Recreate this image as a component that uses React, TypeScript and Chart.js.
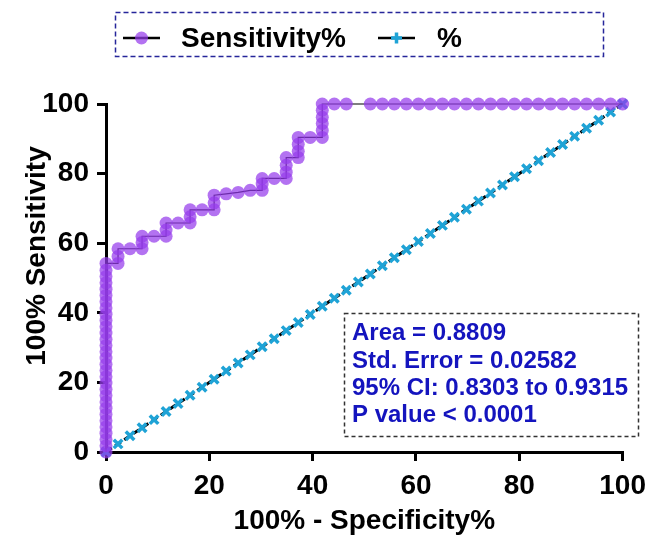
import React, { useEffect, useRef } from 'react';
import { Chart, registerables } from 'chart.js';
Chart.register(...registerables);

const FONT = '"Liberation Sans", Arial, Helvetica, sans-serif';

const seriesLabels = ['Sensitivity%', '%'];
const xTitle = '100% - Specificity%';
const yTitle = '100% Sensitivity';
const statsLines = ['Area = 0.8809', 'Std. Error = 0.02582', '95% CI: 0.8303 to 0.9315', 'P value < 0.0001'];

const rocX = [
  0, 0, 0, 0, 0, 0, 0, 0, 0, 0, 0, 0, 0, 0, 0, 0, 0, 0, 0, 0, 0, 0, 0, 0, 0, 0, 0, 0, 0, 0, 0,
  2.33, 2.33, 2.33,
  4.65,
  6.98, 6.98, 6.98,
  9.3,
  11.63, 11.63, 11.63,
  13.95,
  16.28, 16.28, 16.28,
  18.6,
  20.93, 20.93, 20.93,
  23.26,
  25.58,
  27.91,
  30.23, 30.23, 30.23,
  32.56,
  34.88, 34.88, 34.88, 34.88,
  37.21, 37.21, 37.21, 37.21,
  39.53,
  41.86, 41.86, 41.86, 41.86, 41.86, 41.86,
  44.19, 46.51, 51.16, 53.49, 55.81, 58.14, 60.47, 62.79, 65.12, 67.44, 69.77, 72.09,
  74.42, 76.74, 79.07, 81.4, 83.72, 86.05, 88.37, 90.7, 93.02, 95.35, 97.67, 100,
];
const rocY = [
  0, 1.8, 3.6, 5.4, 7.2, 9, 10.8, 12.6, 14.4, 16.2, 18, 19.8, 21.6, 23.4, 25.2, 27, 28.8, 30.6, 32.4,
  34.2, 36, 37.8, 39.6, 41.4, 43.2, 45, 46.8, 48.6, 50.4, 52.2, 54.2,
  54.2, 56.2, 58.4,
  58.4,
  58.4, 60.2, 62,
  62,
  62, 63.8, 65.8,
  65.8,
  65.8, 67.6, 69.6,
  69.6,
  69.6, 71.6, 73.8,
  74.2,
  74.6,
  75.2,
  75.2, 77, 78.6,
  78.6,
  78.6, 80.4, 82.4, 84.6,
  84.6, 86.4, 88.4, 90.4,
  90.4,
  90.4, 92.4, 94.4, 96.2, 98.2, 100,
  100, 100, 100, 100, 100, 100, 100, 100, 100, 100, 100, 100,
  100, 100, 100, 100, 100, 100, 100, 100, 100, 100, 100, 100,
];
// identity (reference) line: x and y are equal
const refLine = [
  0, 2.33, 4.65, 6.98, 9.3, 11.63, 13.95, 16.28, 18.6, 20.93, 23.26, 25.58, 27.91, 30.23, 32.56,
  34.88, 37.21, 39.53, 41.86, 44.19, 46.51, 48.84, 51.16, 53.49, 55.81, 58.14, 60.47, 62.79,
  65.12, 67.44, 69.77, 72.09, 74.42, 76.74, 79.07, 81.4, 83.72, 86.05, 88.37, 90.7, 93.02,
  95.35, 97.67, 100,
];

const PURPLE = 'rgba(150, 60, 235, 0.72)';
const CYAN = '#1fa3d6';

const overlayPlugin = {
  id: 'overlay',
  afterDraw(chart: any) {
    const ctx = chart.ctx as CanvasRenderingContext2D;
    const ds = chart.data.datasets;
    ctx.save();
    // legend box
    ctx.setLineDash([5, 3]);
    ctx.strokeStyle = '#26269a';
    ctx.lineWidth = 1.5;
    ctx.strokeRect(115.5, 12.5, 488, 44);
    ctx.setLineDash([]);
    const ly = 38;
    ctx.strokeStyle = '#000';
    ctx.lineWidth = 2.5;
    ctx.beginPath();
    ctx.moveTo(123, ly);
    ctx.lineTo(160, ly);
    ctx.stroke();
    ctx.fillStyle = PURPLE;
    ctx.beginPath();
    ctx.arc(141.5, ly, 6.5, 0, Math.PI * 2);
    ctx.fill();
    ctx.fillStyle = '#000';
    ctx.font = `bold 28px ${FONT}`;
    ctx.textBaseline = 'alphabetic';
    ctx.textAlign = 'left';
    ctx.fillText(ds[0].label, 181, 47);
    ctx.strokeStyle = '#000';
    ctx.lineWidth = 2.5;
    ctx.beginPath();
    ctx.moveTo(378, ly);
    ctx.lineTo(415, ly);
    ctx.stroke();
    ctx.strokeStyle = CYAN;
    ctx.lineWidth = 3.5;
    ctx.beginPath();
    ctx.moveTo(396.5 - 5.5, ly);
    ctx.lineTo(396.5 + 5.5, ly);
    ctx.moveTo(396.5, ly - 5.5);
    ctx.lineTo(396.5, ly + 5.5);
    ctx.stroke();
    ctx.fillStyle = '#000';
    ctx.fillText(ds[1].label, 437, 47);

    // y axis title
    ctx.save();
    ctx.translate(37, 256);
    ctx.rotate(-Math.PI / 2);
    ctx.textAlign = 'center';
    ctx.textBaseline = 'middle';
    ctx.font = `bold 28px ${FONT}`;
    ctx.fillStyle = '#000';
    ctx.fillText(yTitle, 0, 0);
    ctx.restore();

    // stats box
    ctx.setLineDash([4, 3]);
    ctx.strokeStyle = '#333';
    ctx.lineWidth = 1.5;
    ctx.strokeRect(344.5, 313.5, 294, 123);
    ctx.setLineDash([]);
    ctx.fillStyle = '#1414be';
    ctx.font = `bold 24px ${FONT}`;
    ctx.textBaseline = 'middle';
    ctx.textAlign = 'left';
    const ys = [333, 361, 388, 415];
    statsLines.forEach((t, i) => ctx.fillText(t, 352, ys[i]));
    ctx.restore();
  },
};

export default function App() {
  const ref = useRef<HTMLCanvasElement | null>(null);
  useEffect(() => {
    if (!ref.current) return;
    const tickFont = { family: FONT, size: 28, weight: 'bold' as const };
    const chart = new Chart(ref.current, {
      type: 'scatter',
      data: {
        datasets: [
          {
            label: seriesLabels[0],
            data: rocX.map((x, i) => ({ x, y: rocY[i] })),
            showLine: true,
            borderColor: '#000',
            borderWidth: 1.2,
            pointStyle: 'circle',
            pointRadius: 6.5,
            pointBackgroundColor: PURPLE,
            pointBorderColor: 'rgba(0,0,0,0)',
            pointBorderWidth: 0,
            clip: false,
          },
          {
            label: seriesLabels[1],
            data: refLine.map((v) => ({ x: v, y: v })),
            showLine: true,
            borderColor: '#000',
            borderWidth: 3,
            borderDash: [7, 4],
            pointStyle: 'crossRot',
            pointRadius: 6,
            pointBorderColor: CYAN,
            pointBackgroundColor: CYAN,
            pointBorderWidth: 3.5,
            clip: false,
          },
        ],
      },
      options: {
        responsive: false,
        animation: false,
        layout: { padding: { top: 104, left: 0, right: 28, bottom: 0 } },
        plugins: { legend: { display: false }, tooltip: { enabled: false } },
        scales: {
          x: {
            type: 'linear',
            min: 0,
            max: 100,
            ticks: { stepSize: 20, font: tickFont, color: '#000', padding: 8 },
            grid: { drawOnChartArea: false, drawTicks: true, tickLength: 9, color: '#000', lineWidth: 3 },
            border: { display: true, color: '#000', width: 3 },
            title: { display: true, text: xTitle, font: { family: FONT, size: 28, weight: 'bold' }, color: '#000', padding: { top: 0, bottom: 0 } },
            afterFit: (s: any) => { s.height = 86; },
          },
          y: {
            type: 'linear',
            min: 0,
            max: 100,
            ticks: { stepSize: 20, font: tickFont, color: '#000', padding: 8 },
            grid: { drawOnChartArea: false, drawTicks: true, tickLength: 9, color: '#000', lineWidth: 3 },
            border: { display: true, color: '#000', width: 3 },
            title: { display: false, text: yTitle },
            afterFit: (s: any) => { s.width = 106; },
          },
        },
      },
      plugins: [overlayPlugin],
    });
    return () => chart.destroy();
  }, []);
  return (
    <div style={{ position: 'absolute', left: 0, top: 0, width: 654, height: 538, background: '#fff' }}>
      <canvas ref={ref} width={654} height={538} style={{ display: 'block' }} />
    </div>
  );
}
